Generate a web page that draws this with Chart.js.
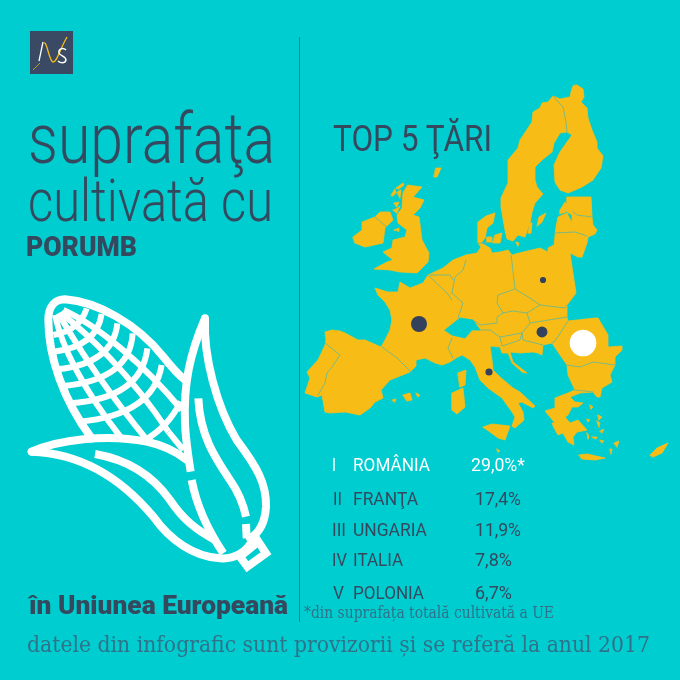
<!DOCTYPE html>
<html>
<head>
<meta charset="utf-8">
<script src="https://cdn.jsdelivr.net/npm/chart.js@4"></script>
<style>
html,body{margin:0;padding:0;background:#00cdd0;width:680px;height:680px;overflow:hidden;}
#wrap{position:relative;width:680px;height:680px;}
canvas{position:absolute;left:0;top:0;}
svg{position:absolute;}
.t{position:absolute;white-space:nowrap;transform-origin:0 0;line-height:1;font-family:Roboto,sans-serif;color:#34495e;}
</style>
</head>
<body>
<div id="wrap">
<canvas id="map" width="680" height="680"></canvas>
<svg style="left:20px;top:290px" width="270" height="290" viewBox="0 0 810 870" fill="none" stroke="#fff" stroke-width="24" stroke-linecap="round" stroke-linejoin="round">
<path d="M215,445 C130,330 85,200 85,90 C85,50 105,28 135,28 C230,35 350,100 430,200 Q470,250 495,270"/>
<g stroke-width="18" stroke-linecap="butt">
<path d="M200,55 Q180,120 100,135"/>
<path d="M245,72 Q230,170 100,185"/>
<path d="M292,100 Q280,220 112,238"/>
<path d="M338,130 Q330,270 128,288"/>
<path d="M382,175 Q365,325 150,340"/>
<path d="M425,225 Q400,375 178,395"/>
<path d="M482,335 Q445,410 375,450"/>
<path d="M130,60 C230,105 370,220 485,360"/>
<path d="M122,68 C200,130 330,250 445,425"/>
<path d="M115,70 C160,150 250,290 385,455"/>
<path d="M105,75 C125,170 190,300 305,445"/>
<path d="M445,425 L490,480"/>
</g>
<path d="M35,485 C110,450 260,430 380,455 Q450,470 500,510"/>
<path d="M35,485 C180,490 300,560 400,680 C450,750 520,800 600,805 C640,808 680,790 700,745"/>
<path stroke-linecap="butt" d="M225,492 C330,510 400,560 450,630 C490,690 530,720 585,750"/>
<path stroke-linecap="butt" d="M555,85 C510,190 490,280 495,400 C497,450 505,500 512,545"/>
<path stroke-linecap="butt" d="M515,570 C530,650 570,730 610,790"/>
<path d="M555,85 C550,200 590,350 650,450 C710,530 740,580 738,650 C735,700 715,730 690,745"/>
<path stroke-linecap="butt" d="M535,325 C540,440 590,510 630,570 Q665,620 678,680"/>
<path stroke-linecap="butt" d="M678,702 L680,745"/>
<path stroke-linejoin="miter" d="M660,800 L715,755 L738,790 L682,830 Z"/>
</svg>
<svg style="left:30px;top:31px" width="43" height="43" viewBox="0 0 43 43" fill="none">
<rect width="43" height="43" fill="#3a4a64"/>
<path d="M3,39 L10,32" stroke="#f8bc16" stroke-width=".7"/>
<path d="M9,30 L13,11" stroke="#fff" stroke-width="1.3"/>
<path d="M14,12 C17,10 19,30 23,31 C27,31 29,20 37,6" stroke="#f8bc16" stroke-width="1.3"/>
<path d="M36,19 C33,16 28,18 29,22 C30,25 36,25 36,29 C35,33 30,32 28,30" stroke="#fff" stroke-width="1.4"/>
</svg>
<div style="position:absolute;left:299px;top:37px;width:1px;height:585px;background:#1f7e98"></div>
</div>
<script>
const countries = ['ROMÂNIA','FRANŢA','UNGARIA','ITALIA','POLONIA'];
const ranks = ['I','II','III','IV','V'];
const values = [29.0,17.4,11.9,7.8,6.7];
const valueLabels = ['29,0%*','17,4%','11,9%','7,8%','6,7%'];
// where each country sits on the map drawing
const mapX = [583,419,542,489,543];
const mapY = [343,324,332,372,280];

const mainland = [[478,222],[486,216],[495,213],[493,223],[487,228],[485,238],[481,243],[490,248],[492,253],[500,252],[508,250],[512,255],[523,252],[540,248],[548,252],[570,253],[572,267],[576,293],[567,305],[567,317],[568,321],[595,318],[598,318],[608,335],[608,347],[622,346],[622,350],[615,357],[615,365],[610,375],[612,382],[602,388],[600,397],[597,397],[593,392],[580,393],[570,397],[575,402],[583,403],[578,407],[572,407],[568,415],[565,417],[570,423],[578,420],[587,430],[577,432],[573,437],[574,445],[568,442],[563,433],[558,435],[554,428],[552,423],[555,423],[545,411],[555,408],[555,398],[568,393],[575,390],[568,375],[567,365],[560,355],[552,343],[543,345],[542,355],[538,353],[533,352],[520,353],[510,352],[513,362],[527,373],[522,372],[512,363],[508,353],[502,353],[500,347],[490,346],[492,360],[493,370],[500,377],[513,388],[520,392],[535,406],[533,408],[522,402],[518,403],[523,412],[524,420],[515,428],[512,426],[515,417],[512,412],[502,398],[488,388],[480,380],[475,367],[470,360],[462,355],[456,358],[450,362],[442,365],[435,363],[425,358],[416,360],[416,366],[410,372],[390,380],[381,390],[383,398],[375,402],[370,408],[360,415],[345,412],[330,413],[325,412],[322,395],[317,397],[305,393],[310,378],[307,372],[318,360],[325,345],[326,340],[325,332],[332,330],[340,331],[345,333],[358,340],[365,340],[381,347],[385,340],[390,330],[392,320],[390,310],[385,302],[378,295],[375,288],[388,292],[398,292],[400,282],[410,288],[423,283],[428,275],[443,268],[453,260],[466,255],[477,253],[481,247],[478,243]];
const nordic = [[577,85],[583,89],[584,97],[581,102],[587,108],[588,118],[592,130],[597,142],[597,148],[603,156],[601,168],[593,180],[582,187],[568,193],[560,190],[555,182],[554,165],[560,152],[567,142],[572,135],[567,132],[560,133],[554,143],[552,152],[542,160],[535,167],[535,180],[537,187],[543,194],[535,203],[532,212],[530,223],[525,237],[518,235],[513,241],[507,239],[505,230],[501,207],[501,198],[508,183],[508,160],[518,148],[520,140],[532,122],[533,112],[540,108],[542,103],[548,102],[553,96],[560,99],[570,97],[571,92],[573,86]];
const baltics = [[567,197],[591,197],[592,217],[593,225],[597,230],[595,234],[588,237],[587,243],[582,257],[578,257],[570,253],[548,252],[548,248],[554,245],[556,227],[558,217],[567,213],[572,223],[572,215],[567,212]];
const britain = [[408,185],[422,187],[413,197],[424,200],[420,208],[413,215],[419,217],[422,240],[429,253],[428,262],[417,273],[400,272],[390,270],[374,269],[387,262],[393,260],[383,252],[392,248],[393,240],[405,237],[407,230],[398,223],[397,215],[402,208],[403,193]];
const ireland = [[353,237],[362,230],[362,222],[375,217],[380,212],[390,212],[393,220],[385,228],[383,243],[365,247],[355,243]];
const islands = [
  [[560,210],[565,202],[567,205],[566,212],[560,214]],
  [[537,226],[539,217],[546,213],[542,222]],
  [[528,233],[530,223],[532,223],[531,233]],
  [[483,427],[492,424],[510,426],[505,440],[498,438],[490,432]],
  [[650,455],[657,448],[668,443],[662,453],[653,457]],
  [[579,455],[587,454],[605,458],[595,460],[582,459]],
  [[452,393],[463,388],[465,407],[457,414],[452,410]],
  [[458,373],[466,370],[465,385],[460,387]],
  [[403,395],[410,393],[412,400],[407,401]],
  [[392,400],[396,399],[395,402]],
  [[416,393],[420,395],[418,397]],
  [[391,195],[395,189],[396,193],[393,196]],
  [[396,188],[403,183],[404,185],[399,189]],
  [[397,192],[401,190],[400,198]],
  [[394,203],[399,202],[397,207]],
  [[393,210],[398,208],[400,206],[397,213]],
  [[394,230],[399,228],[399,231]],
  [[436,168],[441,168],[437,177],[434,177]],
  [[487,237],[492,237],[492,242],[487,242]],
  [[495,235],[502,233],[500,243],[493,243]],
  [[516,242],[519,243],[518,246]],
  [[590,405],[593,407],[591,409]],[[598,415],[602,417],[599,420]],[[587,419],[590,420],[588,422]],
  [[597,421],[600,423],[599,427]],[[600,431],[604,429],[602,433]],[[587,433],[589,436],[588,439]],
  [[592,437],[597,437],[596,439]],[[600,440],[604,441],[602,443]],[[614,443],[619,441],[617,447]],[[610,449],[612,449],[611,454]],[[497,449],[500,451],[498,452]]
];
const switzerland = [[445,330],[460,318],[473,320],[480,330],[472,330],[465,338],[452,335]];
const borders = [
  [[553,96],[563,107],[566,122],[567,132]],
  [[573,212],[577,215],[592,217]],
  [[554,233],[575,232],[587,236]],
  [[382,347],[397,358],[412,373]],
  [[325,343],[340,355],[332,367],[327,373],[325,383],[318,395]],
  [[428,275],[447,293],[452,300]],
  [[452,293],[463,303],[458,318]],
  [[430,275],[450,275],[453,280]],
  [[466,260],[463,270],[455,277],[452,293]],
  [[452,338],[448,348],[453,358]],
  [[511,255],[512,262],[513,272],[515,288]],
  [[515,289],[530,298],[540,305],[565,308],[567,305]],
  [[515,289],[498,295],[497,303],[503,313]],
  [[503,313],[513,311],[527,313],[540,305]],
  [[527,313],[530,323],[555,319],[567,317]],
  [[503,313],[497,317],[497,323],[480,325],[473,320]],
  [[480,330],[490,330],[500,337],[522,333],[530,323]],
  [[500,337],[502,346],[520,340],[522,333]],
  [[522,333],[523,340],[543,345]],
  [[552,343],[555,341],[568,321]],
  [[567,365],[580,367],[593,362],[615,365]],
  [[575,390],[593,392]],
  [[375,217],[382,223],[387,227]],
  [[478,243],[487,243]]
];

const yellow = '#f8bc16';
const mapPlugin = {
  id: 'mapPlugin',
  beforeDatasetsDraw(chart) {
    const c = chart.ctx, sx = chart.scales.x, sy = chart.scales.y;
    function trace(pts, close) {
      c.beginPath();
      pts.forEach((p, i) => {
        const px = sx.getPixelForValue(p[0]), py = sy.getPixelForValue(p[1]);
        if (i === 0) c.moveTo(px, py); else c.lineTo(px, py);
      });
      if (close) c.closePath();
    }
    c.save();
    c.lineJoin = 'round';
    c.lineCap = 'round';
    c.fillStyle = yellow;
    c.strokeStyle = yellow;
    c.lineWidth = 0.8;
    [mainland, nordic, baltics, britain, ireland, ...islands].forEach(poly => {
      trace(poly, true);
      c.fill();
      c.stroke();
    });
    c.fillStyle = '#00cdd0';
    c.strokeStyle = '#00cdd0';
    trace(switzerland, true);
    c.fill();
    c.stroke();
    c.strokeStyle = '#6fb98c';
    c.lineWidth = 0.9;
    borders.forEach(line => {
      trace(line, false);
      c.stroke();
    });
    c.restore();
  }
};

const mapChart = new Chart(document.getElementById('map'), {
  type: 'bubble',
  data: {
    labels: countries,
    datasets: [{
      label: 'suprafaţa cultivată cu porumb',
      data: values.map((v, i) => ({x: mapX[i], y: mapY[i], r: v * 0.46})),
      backgroundColor: values.map((v, i) => i === 0 ? '#ffffff' : '#33415c'),
      borderWidth: 0
    }]
  },
  options: {
    responsive: false,
    animation: false,
    layout: {padding: 0},
    plugins: {legend: {display: false}, tooltip: {enabled: false}},
    scales: {
      x: {type: 'linear', display: false, min: 0, max: 680},
      y: {type: 'linear', display: false, min: 0, max: 680, reverse: true}
    }
  },
  plugins: [mapPlugin]
});

// bubble charts keep a margin for the biggest radius, so line the scales up with the real area
const area = mapChart.chartArea;
mapChart.options.scales.x.min = area.left;
mapChart.options.scales.x.max = area.right;
mapChart.options.scales.y.min = area.top;
mapChart.options.scales.y.max = area.bottom;
mapChart.update();

// text goes in as normal elements, squeezed sideways because no condensed font is installed
const wrap = document.getElementById('wrap');
function label(text, x, base, size, width, opts) {
  opts = opts || {};
  const el = document.createElement('div');
  el.className = 't';
  el.textContent = text;
  el.style.fontSize = size + 'px';
  el.style.fontWeight = opts.weight || 400;
  if (opts.font) el.style.fontFamily = opts.font;
  if (opts.color) el.style.color = opts.color;
  wrap.appendChild(el);
  const mark = document.createElement('span');
  mark.style.cssText = 'display:inline-block;width:0;height:0';
  el.appendChild(mark);
  const offset = mark.getBoundingClientRect().bottom - el.getBoundingClientRect().top;
  el.removeChild(mark);
  el.style.left = x + 'px';
  el.style.top = (base - offset) + 'px';
  const w = el.getBoundingClientRect().width;
  el.style.transform = 'scaleX(' + (width / w) + ')';
}

label('suprafaţa', 28, 163, 70, 247, {weight: 300});
label('cultivată cu', 28, 221, 59, 245, {weight: 300});
label('PORUMB', 26, 256, 28, 111, {weight: 900});
label('TOP 5 ŢĂRI', 333, 151, 36, 159);

const rowBase = [471,505,536,566,599];
const rankX = [332,333,332,332,333];
const rankW = [4,9,14,15,11];
const nameW = [77,65,74,50,71];
const valueX = [471,475,475,475,475];
const valueW = [54,46,46,37,37];
countries.forEach((name, i) => {
  const color = i === 0 ? '#ffffff' : '#34495e';
  label(ranks[i], rankX[i], rowBase[i], 18.5, rankW[i], {color});
  label(name, 353, rowBase[i], 18.5, nameW[i], {color});
  label(valueLabels[i], valueX[i], rowBase[i], 18.5, valueW[i], {color});
});

label('în Uniunea Europeană', 29, 614, 25, 259, {weight: 900});
label('*din suprafața totală cultivată a UE', 304, 618, 16.5, 250, {font: '"DejaVu Serif"', color: '#2f7289'});
label('datele din infografic sunt provizorii și se referă la anul 2017', 27, 652, 23, 623, {font: '"DejaVu Serif"', color: '#2f7289'});
</script>
</body>
</html>
